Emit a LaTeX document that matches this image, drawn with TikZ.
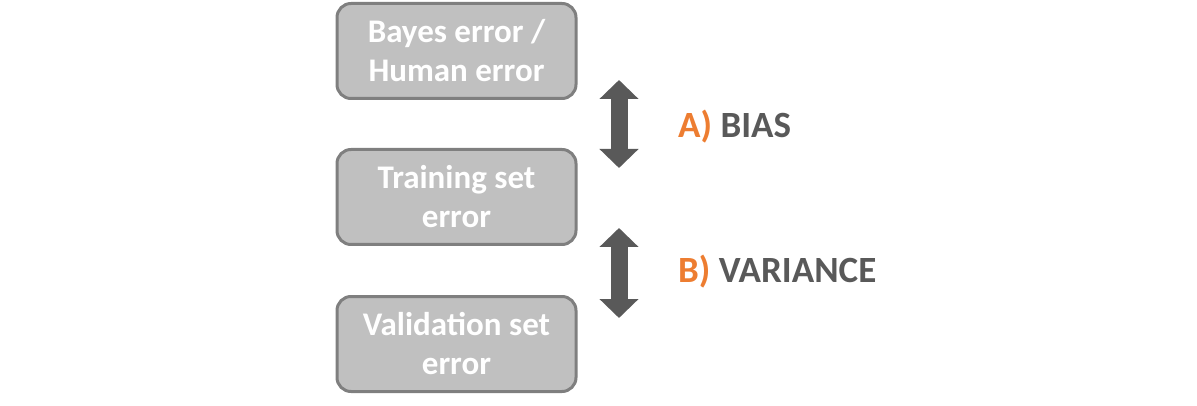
\documentclass[tikz,border=0pt]{standalone}
\usepackage{fontspec}
\setmainfont{Carlito}
\usetikzlibrary{arrows.meta}
\definecolor{boxfill}{HTML}{C0C0C0}
\definecolor{boxline}{HTML}{7F7F7F}
\definecolor{dgray}{HTML}{595959}
\definecolor{orng}{HTML}{ED7D31}
\begin{document}
\begin{tikzpicture}[x=1pt,y=-1pt,
  errbox/.style={draw=boxline, fill=boxfill, line width=3pt, rounded corners=14pt,
    minimum width=239pt, minimum height=95pt, inner sep=0pt, align=center,
    text=white, font=\fontsize{33}{39}\selectfont\bfseries},
  bigarrow/.style={draw=dgray, line width=17pt,
    {Triangle[length=19pt,width=38pt]}-{Triangle[length=19pt,width=38pt]}},
  lbl/.style={anchor=west, inner sep=0pt, text=dgray, font=\fontsize{37}{42}\selectfont\bfseries}]
\useasboundingbox (0,0) rectangle (1197,406);
\node[errbox] (bayes) at (456.5,51) {Bayes error /\\Human error};
\node[errbox] (train) at (456.5,197) {Training set\\error};
\node[errbox] (val) at (456.5,344) {Validation set\\error};
\coordinate (a1) at (619,80);
\coordinate (a2) at (619,168);
\coordinate (b1) at (619,228);
\coordinate (b2) at (619,318);
\draw[bigarrow] (a1) -- (a2);
\draw[bigarrow] (b1) -- (b2);
\node[lbl] (bias) at (678,127) {\textcolor{orng}{A)} BIAS};
\node[lbl] (var) at (678,272) {\textcolor{orng}{B)} VARIANCE};
\end{tikzpicture}
\end{document}
